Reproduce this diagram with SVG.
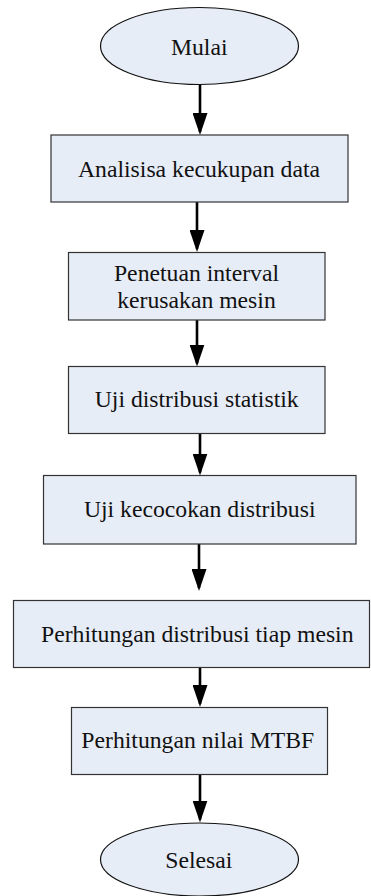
<svg xmlns="http://www.w3.org/2000/svg" width="371" height="896" viewBox="0 0 371 896">
<style>
.node{fill:#e7edf7;stroke:#333;stroke-width:1.2}
.term{fill:#e7edf7;stroke:#111;stroke-width:1.2}
.lbl{fill:#111;text-anchor:middle}
.conn{stroke:#000;stroke-width:2.6;fill:none;marker-end:url(#ah)}
</style>
<defs>
<marker id="ah" markerUnits="userSpaceOnUse" viewBox="0 0 22 15" markerWidth="22" markerHeight="15" refX="19" refY="7.5" orient="auto">
<path d="M0,0 L22,7.5 L0,15 z" fill="#000"/>
</marker>
</defs>
<rect width="371" height="896" fill="#fff"/>
<g id="connectors">
<path class="conn" d="M200,85 V132"/>
<path class="conn" d="M197,202 V249"/>
<path class="conn" d="M197,320 V363.5"/>
<path class="conn" d="M200,434 V472.5"/>
<path class="conn" d="M199,544 V588"/>
<path class="conn" d="M200,667.5 V704"/>
<path class="conn" d="M200,774.5 V819.5"/>
</g>
<g id="mulai">
<ellipse class="term" cx="199.5" cy="46" rx="99" ry="38.5"/>
<text class="lbl" x="199.2" y="55" font-family="Liberation Serif" font-size="23.7">Mulai</text>
</g>
<g id="analisisa">
<rect class="node" x="51" y="135" width="297" height="67"/>
<text class="lbl" x="199" y="177" font-family="Liberation Serif" font-size="23.7">Analisisa kecukupan data</text>
</g>
<g id="penetuan">
<rect class="node" x="68.5" y="252.5" width="256.5" height="67.5"/>
<text class="lbl" x="196.5" y="280.7" font-family="Liberation Serif" font-size="23.7">Penetuan interval</text>
<text class="lbl" x="196.5" y="308.3" font-family="Liberation Serif" font-size="23.7">kerusakan mesin</text>
</g>
<g id="uji-distribusi">
<rect class="node" x="68.5" y="366.5" width="256.5" height="67"/>
<text class="lbl" x="196.7" y="406.7" font-family="Liberation Serif" font-size="23.7">Uji distribusi statistik</text>
</g>
<g id="uji-kecocokan">
<rect class="node" x="43.5" y="475.5" width="312.5" height="68.5"/>
<text class="lbl" x="199.7" y="516.7" font-family="Liberation Serif" font-size="23.7">Uji kecocokan distribusi</text>
</g>
<g id="perhitungan-distribusi">
<rect class="node" x="13.5" y="600.5" width="356" height="67"/>
<text class="lbl" x="197.3" y="641.7" font-family="Liberation Serif" font-size="23.7">Perhitungan distribusi tiap mesin</text>
</g>
<g id="perhitungan-mtbf">
<rect class="node" x="71.5" y="707.5" width="256" height="67"/>
<text class="lbl" x="197.8" y="748.3" font-family="Liberation Serif" font-size="23.7">Perhitungan nilai MTBF</text>
</g>
<g id="selesai">
<ellipse class="term" cx="199.5" cy="859.5" rx="99" ry="36.5"/>
<text class="lbl" x="198.8" y="868.3" font-family="Liberation Serif" font-size="23.7">Selesai</text>
</g>
</svg>
